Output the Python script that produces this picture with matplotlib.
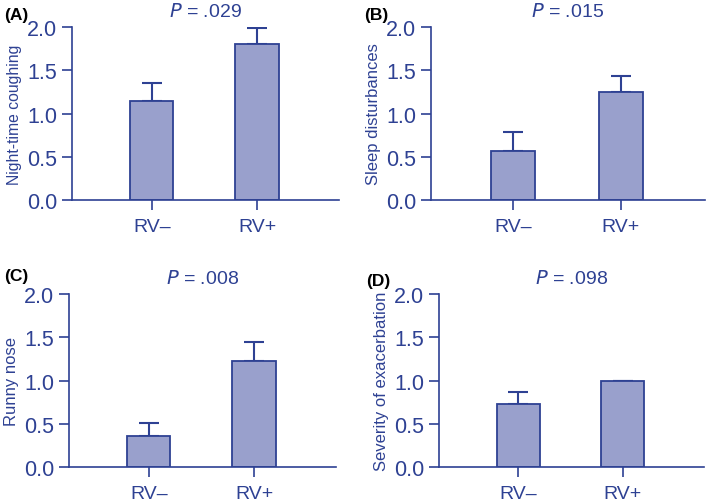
import numpy as np
import matplotlib
matplotlib.use("Agg")
import matplotlib.pyplot as plt

plt.rcParams['font.family'] = ['Liberation Sans', 'DejaVu Sans']

BLUE = '#2e4193'
FILL = '#99a0cc'

groups = ['RV\u2013', 'RV+']
panels = ['(A)', '(B)', '(C)', '(D)']
ylabels = ['Night-time coughing', 'Sleep disturbances', 'Runny nose', 'Severity of exacerbation']
ylabel_sizes = [11.3, 12, 12, 12]
pvals = ['.029', '.015', '.008', '.098']
means = [[1.14, 1.80], [0.57, 1.25], [0.36, 1.22], [0.73, 1.00]]
errs = [[0.21, 0.19], [0.22, 0.18], [0.15, 0.22], [0.14, 0.0]]

# axes boxes [left, bottom, width, height] in figure fractions
boxes = [[0.1016, 0.5996, 0.3766, 0.3446],
         [0.6079, 0.5996, 0.3865, 0.3446],
         [0.0973, 0.067, 0.3766, 0.346],
         [0.6192, 0.067, 0.3738, 0.346]]
label_pos = [(0.006, 0.985), (0.514, 0.985), (0.006, 0.465), (0.517, 0.455)]

fig = plt.figure(figsize=(7.09, 5.02), dpi=100)

for i in range(4):
    ax = fig.add_axes(boxes[i])
    x = np.arange(len(groups))
    ax.bar(x, means[i], width=0.41, color=FILL, edgecolor=BLUE, lw=1.3, zorder=2)
    ax.errorbar(x, means[i], yerr=[[0, 0], errs[i]], fmt='none', ecolor=BLUE,
                elinewidth=1.5, capsize=7, capthick=1.5, zorder=1)
    ax.set_xlim(-0.76, 1.78)
    ax.set_ylim(0, 2.0)
    ax.set_yticks([0, 0.5, 1.0, 1.5, 2.0])
    ax.set_yticklabels(['0.0', '0.5', '1.0', '1.5', '2.0'])
    ax.set_xticks(x)
    ax.set_xticklabels(groups)
    for s in ['top', 'right']:
        ax.spines[s].set_visible(False)
    for s in ['left', 'bottom']:
        ax.spines[s].set_color(BLUE)
        ax.spines[s].set_linewidth(1.2)
    ax.tick_params(axis='both', colors=BLUE, labelcolor=BLUE,
                   length=7, width=1.2, direction='out')
    ax.tick_params(axis='x', pad=6, labelsize=14)
    ax.tick_params(axis='y', labelsize=15.5)
    ax.set_ylabel(ylabels[i], color=BLUE, fontsize=ylabel_sizes[i], labelpad=4)
    ax.set_title('$\\it{P}$ = ' + pvals[i], color=BLUE, fontsize=14, pad=8)
    ax.patch.set_visible(False)
    fig.text(label_pos[i][0], label_pos[i][1], panels[i], fontsize=12.5,
             fontweight='bold', va='top')

fig.savefig('out.png', dpi=100)
